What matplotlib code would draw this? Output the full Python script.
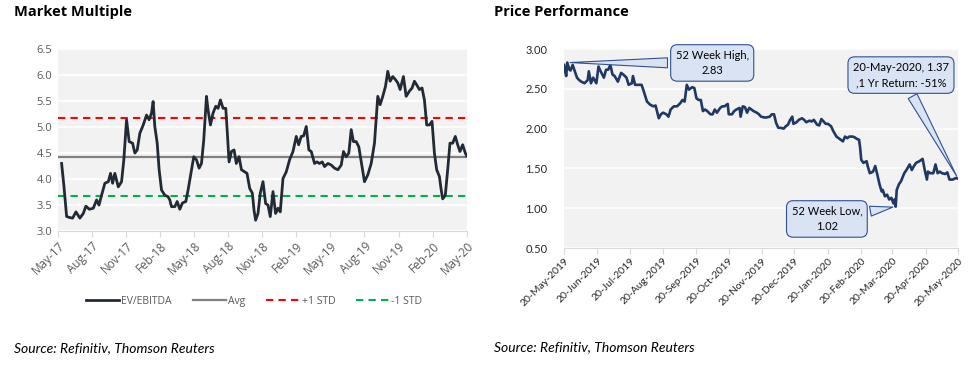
import matplotlib
matplotlib.use('Agg')
import matplotlib.pyplot as plt
import pandas as pd

# ---- Market Multiple data (months since May-17, EV/EBITDA) ----
mm_months = [0.32, 0.53, 0.76, 1.06, 1.29, 1.58, 1.93, 2.23, 2.46, 2.76, 3.11, 3.40, 3.61, 3.84,
             4.13, 4.43, 4.63, 4.81, 5.01, 5.31, 5.60, 5.80, 6.04, 6.27, 6.57, 6.77, 6.98, 7.21,
             7.51, 7.80, 8.03, 8.24, 8.38, 8.53, 8.74, 8.91, 9.12, 9.41, 9.70, 9.85, 10.00, 10.29,
             10.50, 10.73, 10.96, 11.26, 11.46, 11.76, 11.96, 12.20, 12.43, 12.64, 12.84, 13.08,
             13.22, 13.43, 13.66, 13.90, 14.10, 14.31, 14.54, 14.78, 14.92, 15.07, 15.28, 15.51,
             15.71, 15.95, 16.16, 16.45, 16.65, 16.89, 17.12, 17.27, 17.41, 17.62, 17.82, 18.06,
             18.29, 18.50, 18.70, 18.94, 19.17, 19.38, 19.58, 19.82, 20.11, 20.40, 20.70, 20.99,
             21.20, 21.43, 21.64, 21.87, 22.10, 22.31, 22.60, 22.81, 23.04, 23.28, 23.48, 23.78,
             24.07, 24.36, 24.66, 24.95, 25.15, 25.39, 25.62, 25.83, 26.03, 26.27, 26.50, 26.80,
             27.00, 27.29, 27.59, 27.88, 28.17, 28.38, 28.61, 28.85, 29.05, 29.26, 29.49, 29.73,
             29.93, 30.14, 30.43, 30.67, 30.96, 31.19, 31.40, 31.60, 31.84, 32.07, 32.28, 32.48,
             32.72, 32.95, 33.16, 33.36, 33.60, 33.74, 33.89, 34.12, 34.33, 34.53, 34.77, 35.00,
             35.21, 35.41, 35.65, 35.88, 36.00]
ev_ebitda = [4.30, 3.85, 3.28, 3.26, 3.25, 3.37, 3.25, 3.34, 3.48, 3.42, 3.44, 3.60, 3.50, 3.69,
             3.92, 3.95, 4.11, 3.92, 4.11, 3.85, 3.95, 4.37, 5.14, 4.72, 4.69, 4.50, 4.56, 4.88,
             5.04, 5.23, 5.14, 5.27, 5.49, 5.01, 4.69, 4.18, 3.79, 3.69, 3.66, 3.60, 3.47, 3.47,
             3.57, 3.42, 3.54, 3.57, 3.79, 4.18, 4.43, 4.37, 4.21, 4.30, 4.75, 5.59,
             5.33, 5.04, 5.27, 5.40, 5.36, 5.52, 5.36, 5.36, 4.88, 4.33, 4.53, 4.56,
             4.30, 4.43, 4.18, 4.14, 4.11, 3.82, 3.73, 3.40, 3.21, 3.34, 3.73, 3.95,
             3.53, 3.50, 3.28, 3.76, 3.34, 3.44, 3.37, 4.01, 4.14, 4.37, 4.53, 4.82,
             4.66, 4.82, 4.83, 5.01, 4.56, 4.53, 4.30, 4.33, 4.30, 4.33, 4.24, 4.30,
             4.27, 4.21, 4.18, 4.27, 4.53, 4.43, 4.50, 4.95, 4.72, 4.72, 4.62, 4.21,
             3.95, 4.08, 4.30, 4.69, 5.59, 5.43, 5.59, 5.78, 6.07, 5.88, 5.97, 5.91,
             5.85, 5.72, 5.97, 5.59, 5.69, 5.75, 5.88, 5.81, 5.72, 5.75, 5.52, 5.04,
             5.04, 5.11, 4.50, 4.18, 4.05, 3.82, 3.62, 3.69, 4.18, 4.69, 4.69, 4.82,
             4.66, 4.53, 4.66, 4.50, 4.45]
mm_avg = 4.42
mm_plus_std = 5.17
mm_minus_std = 3.67
mm_tick_labels = ['May-17', 'Aug-17', 'Nov-17', 'Feb-18', 'May-18', 'Aug-18', 'Nov-18',
                  'Feb-19', 'May-19', 'Aug-19', 'Nov-19', 'Feb-20', 'May-20']

# ---- Price Performance data (days since 20-May-2019, price) ----
pp_days = [0, 1, 2, 3, 5, 6, 8, 10, 12, 14, 16, 19, 22, 23, 25, 27, 30, 32, 34, 37, 39, 41, 43,
           45, 47, 50, 53, 55, 58, 60, 63, 64, 66, 69, 72, 74, 77, 80, 83, 85, 88, 90, 92, 95,
           97, 99, 102, 105, 108, 110, 112, 114, 116, 119, 121, 123, 125, 127, 129, 131, 133,
           136, 138, 140, 142, 145, 147, 149, 152, 153, 156, 158, 160, 163, 164, 166, 168, 170,
           172, 174, 176, 179, 181, 183, 186, 188, 191, 193, 195, 197, 199, 201, 204, 206, 208,
           210, 212, 213, 216, 218, 221, 223, 225, 228, 230, 232, 235, 237, 239, 241, 243, 245,
           248, 250, 253, 256, 259, 261, 263, 265, 268, 270, 272, 274, 275, 276, 278, 281, 282,
           284, 287, 289, 291, 293, 295, 296, 298, 300, 302, 304, 306, 307, 308, 309, 311, 313,
           316, 318, 321, 323, 325, 327, 330, 333, 335, 337, 338, 340, 343, 345, 347, 349, 351,
           354, 356, 358, 361, 364, 366]
price = [2.80, 2.72, 2.66, 2.83, 2.74, 2.73, 2.80, 2.72, 2.64, 2.61, 2.59, 2.57, 2.61, 2.72,
         2.57, 2.64, 2.57, 2.78, 2.72, 2.64, 2.74, 2.74, 2.80, 2.68, 2.66, 2.59, 2.70, 2.68,
         2.64, 2.55, 2.57, 2.66, 2.55, 2.55, 2.55, 2.47, 2.34, 2.30, 2.28, 2.29, 2.13, 2.18,
         2.20, 2.18, 2.15, 2.24, 2.28, 2.28, 2.32, 2.36, 2.34, 2.55, 2.49, 2.52, 2.51, 2.38,
         2.36, 2.36, 2.22, 2.24, 2.22, 2.18, 2.18, 2.24, 2.20, 2.26, 2.28, 2.28, 2.31, 2.18,
         2.18, 2.22, 2.24, 2.26, 2.15, 2.28, 2.27, 2.20, 2.26, 2.24, 2.22, 2.20, 2.18, 2.15,
         2.14, 2.14, 2.15, 2.18, 2.18, 2.07, 2.01, 2.01, 2.00, 2.03, 2.05, 2.11, 2.15, 2.06,
         2.08, 2.11, 2.13, 2.11, 2.08, 2.10, 2.09, 2.11, 2.05, 2.04, 2.12, 2.09, 2.06, 2.06,
         2.03, 1.97, 1.90, 1.87, 1.84, 1.90, 1.88, 1.90, 1.90, 1.89, 1.87, 1.86, 1.76, 1.61,
         1.57, 1.59, 1.53, 1.44, 1.46, 1.53, 1.42, 1.30, 1.21, 1.23, 1.15, 1.17, 1.11, 1.13,
         1.06, 1.11, 1.02, 1.23, 1.30, 1.34, 1.44, 1.48, 1.55, 1.48, 1.53, 1.57, 1.59, 1.62,
         1.48, 1.36, 1.46, 1.44, 1.44, 1.55, 1.44, 1.46, 1.44, 1.43, 1.45, 1.36, 1.36, 1.38,
         1.37]
pp_start = pd.Timestamp('2019-05-20')
pp_ticks = pd.date_range('2019-05-01', '2020-05-01', freq='MS') + pd.Timedelta(days=19)

BG = '#F2F2F2'
fig = plt.figure(figsize=(9.73, 3.71), dpi=100)

# ---------------- Market Multiple ----------------
ax1 = fig.add_axes([0.0596, 0.377, 0.420, 0.491])
ax1.set_facecolor(BG)
ax1.plot(mm_months, ev_ebitda, color='#222A35', lw=2.0, label='EV/EBITDA', zorder=4,
         solid_joinstyle='round')
ax1.axhline(mm_avg, color='#808080', lw=1.6, label='Avg', zorder=3)
ax1.axhline(mm_plus_std, color='#FF0000', lw=1.5, ls=(0, (3.5, 2.5)), label='+1 STD', zorder=3)
ax1.axhline(mm_minus_std, color='#00B050', lw=1.5, ls=(0, (3.5, 2.5)), label='-1 STD', zorder=3)
ax1.set_xlim(0, 36)
ax1.set_ylim(3.0, 6.5)
ax1.set_yticks([3.0 + 0.5 * i for i in range(8)])
ax1.set_yticklabels([f'{3.0 + 0.5 * i:.1f}' for i in range(8)])
ax1.set_xticks(range(0, 37, 3))
ax1.set_xticklabels(mm_tick_labels, rotation=45, ha='right', rotation_mode='anchor')
ax1.grid(axis='y', color='white', lw=1.2)
ax1.set_axisbelow(True)
for s in ['top', 'right', 'left']:
    ax1.spines[s].set_visible(False)
ax1.spines['bottom'].set_color('#D9D9D9')
ax1.tick_params(axis='y', length=0, labelsize=8, labelcolor='#595959', pad=4)
ax1.tick_params(axis='x', length=4, color='#D9D9D9', labelsize=8.5, labelcolor='#595959', pad=2)
for lab in ax1.get_xticklabels() + ax1.get_yticklabels():
    lab.set_fontfamily('Open Sans')
leg = ax1.legend(loc='center', bbox_to_anchor=(0.48, -0.385), ncol=4, frameon=False,
                 handlelength=3.2, handletextpad=0.2, columnspacing=2.0,
                 prop={'family': 'Open Sans', 'size': 7.5})
for t in leg.get_texts():
    t.set_color('#595959')

# ---------------- Price Performance ----------------
ax2 = fig.add_axes([0.5797, 0.3315, 0.405, 0.5364])
ax2.set_facecolor(BG)
pp_dates = pp_start + pd.to_timedelta(pp_days, unit='D')
ax2.plot(pp_dates, price, color='#1F3864', lw=1.9, zorder=4)
ax2.set_xlim(pp_ticks[0], pp_ticks[-1])
ax2.set_ylim(0.5, 3.0)
ax2.set_yticks([0.5 + 0.5 * i for i in range(6)])
ax2.set_yticklabels([f'{0.5 + 0.5 * i:.2f}' for i in range(6)])
ax2.set_xticks(pp_ticks)
ax2.set_xticklabels([d.strftime('%d-%b-%Y') for d in pp_ticks], rotation=45, ha='right',
                    rotation_mode='anchor')
ax2.grid(axis='y', color='white', lw=1.2)
ax2.set_axisbelow(True)
for s in ['top', 'right', 'left']:
    ax2.spines[s].set_visible(False)
ax2.spines['bottom'].set_color('#D9D9D9')
ax2.tick_params(axis='y', length=0, labelsize=8, labelcolor='#262626', pad=12)
ax2.tick_params(axis='x', length=4, color='#D9D9D9', labelsize=7.5, labelcolor='#262626', pad=2)
for lab in ax2.get_xticklabels() + ax2.get_yticklabels():
    lab.set_fontfamily('Lato')

hi = price.index(max(price))
lo = price.index(min(price))
box = dict(boxstyle='round,pad=0.45,rounding_size=0.6', fc='#DAE3F3', ec='#2F528F', lw=0.8)
wedge = dict(arrowstyle='wedge,tail_width=0.9,shrink_factor=0.5', fc='#DAE3F3', ec='#2F528F',
             lw=0.8)
ax2.annotate(f'52 Week High,\n{price[hi]:.2f}', xy=(pp_dates[hi], price[hi]),
             xytext=(0.376, 0.93), textcoords='axes fraction', ha='center', va='center',
             fontsize=8, family='Lato', bbox=box, arrowprops=wedge, annotation_clip=False,
             zorder=6, linespacing=1.5)
ax2.annotate(f'52 Week Low,\n{price[lo]:.2f}', xy=(pp_dates[lo], price[lo]),
             xytext=(0.667, 0.146), textcoords='axes fraction', ha='center', va='center',
             fontsize=8, family='Lato', bbox=box, arrowprops=wedge, annotation_clip=False,
             zorder=6, linespacing=1.5)
ret = round((price[-1] / price[0] - 1) * 100)
ax2.annotate(f'{pp_dates[-1].strftime("%d-%b-%Y")}, {price[-1]:.2f}\n,1 Yr Return: {ret}%',
             xy=(pp_dates[-1], price[-1]), xytext=(0.855, 0.869), textcoords='axes fraction',
             ha='center', va='center', fontsize=8, family='Lato', bbox=box, arrowprops=wedge,
             annotation_clip=False, zorder=6, linespacing=1.5)

# ---------------- titles and sources ----------------
fig.text(14 / 973, 0.968, 'Market Multiple', fontsize=10.5, fontweight='bold',
         family='Open Sans', va='center')
fig.text(494 / 973, 0.968, 'Price Performance', fontsize=10.5, fontweight='bold',
         family='Open Sans', va='center')
fig.text(14 / 973, 1 - 348 / 371, 'Source: Refinitiv, Thomson Reuters', fontsize=10,
         style='italic', family='Lato', va='center')
fig.text(494 / 973, 1 - 347 / 371, 'Source: Refinitiv, Thomson Reuters', fontsize=10,
         style='italic', family='Lato', va='center')

fig.savefig('out.png', dpi=100)
